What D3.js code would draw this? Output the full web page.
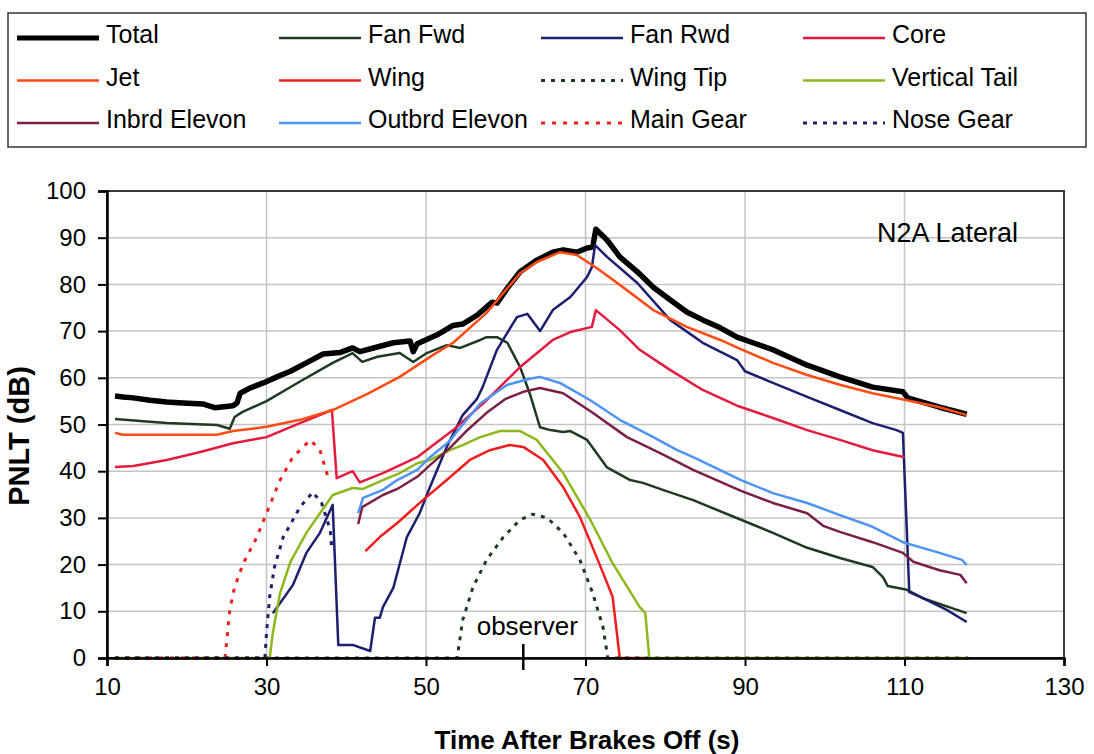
<!DOCTYPE html>
<html>
<head>
<meta charset="utf-8">
<script src="https://cdn.jsdelivr.net/npm/d3@7"></script>
<style>
    body { margin: 0; background: #fff; }
    svg { font-family: "Liberation Sans", Arial, sans-serif; }
    .grid line { stroke: #c4c4c4; stroke-width: 1.5; }
</style>
</head>
<body>
<div id="pnlt_chart"></div>
<script>

    // values: [time (s), PNLT (dB)]
    var total = [[11,56.1],[12,55.9],[13.3,55.7],[15.4,55.2],[17.5,54.8],[19.5,54.6],[22,54.4],[23.5,53.6],[25.8,54],[26.3,54.6],[26.7,56.7],[27.9,57.8],[29.6,58.9],[31.3,60.2],[33,61.4],[35,63.2],[37.1,65.1],[39.2,65.4],[40.8,66.4],[41.7,65.6],[43.9,66.6],[45.9,67.5],[48,67.9],[48.4,65.6],[48.9,67.3],[51.4,69.2],[53.4,71.2],[54.6,71.5],[56.4,73.4],[58.3,76.2],[58.9,76],[60.2,79.2],[61.8,82.7],[63.9,85.2],[65.9,86.9],[67.2,87.4],[68.9,86.9],[70.2,87.8],[70.9,88],[71.3,91.8],[72.7,89.5],[74.3,85.9],[76.5,82.7],[78.5,79.4],[80.6,76.7],[82.7,74.1],[84.7,72.4],[86.9,70.7],[89,68.7],[91,67.5],[93.5,66],[97.8,62.7],[101.9,60.2],[106,58],[109.8,57],[110.4,55.7],[114.4,53.7],[117.8,52.2]];
    var fanFwd = [[11,51.2],[15.4,50.6],[17.5,50.3],[23.8,49.9],[25.4,49.1],[26,51.6],[27,52.7],[30,55],[34.2,59.2],[38.3,63.2],[40.8,65.3],[42,63.4],[43.9,64.5],[46.7,65.3],[48.4,63.4],[50.1,65.3],[52.6,67],[54.3,66.4],[56.8,68.1],[57.6,68.7],[58.9,68.7],[60.2,67.5],[61.8,62.3],[63,56.7],[64.3,49.4],[65.6,48.8],[67.2,48.4],[68.1,48.6],[70.2,46.7],[72.7,40.8],[75.6,38.1],[77.2,37.5],[79.7,36],[83.5,33.8],[89.5,29.6],[93.5,26.8],[97.8,23.6],[101.9,21.4],[106,19.5],[107.3,17.3],[107.9,15.4],[110.3,14.6],[112.3,12.8],[117.8,9.6]];
    var fanRwd = [[30.8,9.6],[33.3,15.6],[35,22.5],[36.7,26.8],[38.3,32.8],[39,2.8],[40.8,2.8],[43,1.5],[43.6,8.6],[44.2,8.6],[44.6,10.9],[45.9,15],[47.6,25.9],[49.2,31],[50.5,36.6],[52.6,45.2],[54.6,52],[56.4,55.5],[57.1,58],[58.9,66],[61.4,73],[62.7,73.7],[64.3,70],[65.9,74.5],[68.1,77.3],[70.2,81.6],[70.8,83.7],[71.2,88.4],[72.7,85.9],[76.5,80.3],[80.6,72.4],[84.7,67.5],[89,63.8],[90,61.4],[93.5,58.9],[97.8,55.9],[101.9,53.1],[106,50.3],[109,48.8],[109.8,48.2],[110.6,14.1],[112.3,12.8],[115.3,10.3],[117.8,7.7]];
    var core = [[11,40.9],[13.3,41.1],[17.5,42.4],[21.7,44.1],[25.8,46],[30,47.3],[34.2,50.3],[38.2,53.1],[38.8,38.5],[40.8,40],[41.7,37.6],[44.6,39.6],[48.9,43],[53.4,48.8],[57.6,55.2],[61.8,62.3],[65.9,68.1],[68.1,69.8],[70.8,70.9],[71.3,74.5],[74.3,70.2],[76.8,66],[80.6,61.7],[84.7,57.4],[89.2,53.9],[93.5,51.4],[97.8,48.8],[101.9,46.7],[106,44.5],[110,43]];
    var jet = [[11,48.2],[12,47.8],[17,47.8],[23.8,47.8],[25.8,48.6],[30,49.5],[34.2,51],[38.3,53.1],[42.6,56.5],[46.7,60.2],[50.9,64.9],[53.4,67.5],[57.6,73.9],[61.8,82.4],[63.9,84.8],[66.8,86.9],[68.9,86.3],[71.4,83.5],[74.3,79.9],[78.5,74.5],[82.7,70.9],[86.9,68.1],[89.4,66.2],[93.5,63.2],[97.8,60.6],[101.9,58.5],[106,56.7],[110.3,55.2],[114.4,53.7],[117.8,52]];
    var wing = [[42.4,22.9],[44.2,25.9],[46.4,28.9],[49.6,33.8],[52.6,38.1],[55.5,42.4],[58,44.5],[60.5,45.6],[62.2,45.2],[64.7,42.4],[67.2,36.6],[69.3,30.2],[71.4,21.6],[73.4,13.1],[74.3,0],[77.5,0]];
    var wingTip = [[11,0],[53.9,0],[54.6,8.1],[55.9,15.2],[57.6,21],[59.7,25.9],[61.8,29.6],[63.4,30.8],[65.2,30],[67.2,26.8],[69.3,21],[70.9,13.9],[72.2,6.6],[72.8,0],[118,0]];
    var verticalTail = [[11,0],[30.4,0],[30.8,5.4],[31.7,13.9],[33,20.6],[35,26.8],[36.7,31],[38.3,34.9],[40.8,36.4],[42.1,36.2],[44.6,38.1],[46.7,39.6],[48.9,41.7],[50.5,42.4],[53,44.5],[54.6,45.6],[56.8,47.3],[59.3,48.6],[61.8,48.6],[63.9,46.7],[67.2,39.6],[70.6,29.6],[73.4,20.3],[76.8,10.9],[77.5,9.6],[78,0],[118,0]];
    var inbrdElevon = [[41.5,28.7],[42,32.3],[44.6,34.9],[46.4,36.2],[48.9,38.8],[50.5,41.3],[53,45],[55,48.5],[57.6,52.5],[60,55.5],[62.2,57],[64.3,57.8],[67.2,56.7],[70.9,52.5],[75.2,47.3],[79.3,43.9],[83.5,40.3],[89.5,35.8],[93.5,33.2],[97.8,31],[99.8,28.3],[101.9,27],[106,24.8],[109.8,22.5],[111.1,20.6],[114.4,18.8],[117,17.8],[117.8,16]];
    var outbrdElevon = [[41.5,31],[42.1,34.3],[44.6,36],[46.4,38.1],[48.9,40.3],[50.5,43],[53,46.5],[53.9,48.5],[56.8,54.5],[60.2,58.5],[63,59.8],[64.3,60.2],[66.8,58.9],[70.6,55.2],[74.3,51],[78.5,47.3],[81.5,44.5],[83.5,43],[89.5,38.1],[93.5,35.3],[97.8,33.2],[101.9,30.6],[106,28.1],[109.8,24.8],[114.4,22.5],[117.2,21],[117.8,19.9]];
    var mainGear = [[11,0],[24.8,0],[25.4,10.3],[26,15.2],[27.1,20.3],[28.8,25.9],[30,31],[31.7,38.1],[33.3,43],[35.5,46.7],[36.7,44.5],[37.7,38.8]];
    var noseGear = [[11,0],[29.8,0],[30,5.4],[30.4,13.1],[31,19.5],[32.1,25.9],[34.2,32.3],[35.8,35.5],[36.9,33.2],[38,27.4],[38.2,23]];

    var seriesNames = ["Total", "Fan Fwd", "Fan Rwd", "Core", "Jet", "Wing", "Wing Tip", "Vertical Tail", "Inbrd Elevon", "Outbrd Elevon", "Main Gear", "Nose Gear"];
    var xTicks = [10, 30, 50, 70, 90, 110, 130];
    var yTicks = [0, 10, 20, 30, 40, 50, 60, 70, 80, 90, 100];
    var observerTime = 62.2;

    // line styles, same order as the names
    var styles = [
        {color: "#000000", width: 5.5, dash: null},
        {color: "#1e3b20", width: 2.5, dash: null},
        {color: "#1c1f6e", width: 2.5, dash: null},
        {color: "#e31b3f", width: 2.5, dash: null},
        {color: "#ff4b14", width: 2.5, dash: null},
        {color: "#f01e1e", width: 2.5, dash: null},
        {color: "#1d3b1d", width: 3, dash: "4,6"},
        {color: "#8db81c", width: 2.5, dash: null},
        {color: "#7b1f45", width: 2.5, dash: null},
        {color: "#4d94f5", width: 2.5, dash: null},
        {color: "#f01e1e", width: 3, dash: "4,7"},
        {color: "#1c1f6e", width: 3, dash: "4,6"}
    ];
    var seriesData = [total, fanFwd, fanRwd, core, jet, wing, wingTip, verticalTail, inbrdElevon, outbrdElevon, mainGear, noseGear];

    var series = seriesNames.map(function (name, i) {
        return {name: name, values: seriesData[i], style: styles[i]};
    });

    var W = 1094, H = 754;
    var plot = {left: 107, right: 1064, top: 191, bottom: 658};

    var svg = d3.select("#pnlt_chart")
        .append("svg")
        .attr("width", W)
        .attr("height", H);

    var x = d3.scaleLinear()
        .domain([10, 130])
        .range([plot.left, plot.right]);

    var y = d3.scaleLinear()
        .domain([0, 100])
        .range([plot.bottom, plot.top]);

    // grid lines
    var grid = svg.append("g").attr("class", "grid");
    grid.selectAll("line.h")
        .data(yTicks.slice(1, -1))
        .enter()
        .append("line")
        .attr("x1", plot.left).attr("x2", plot.right)
        .attr("y1", function (d) { return y(d); })
        .attr("y2", function (d) { return y(d); });
    grid.selectAll("line.v")
        .data(xTicks.slice(1, -1))
        .enter()
        .append("line")
        .attr("y1", plot.top).attr("y2", plot.bottom)
        .attr("x1", function (d) { return x(d); })
        .attr("x2", function (d) { return x(d); });

    // plot frame
    svg.append("rect")
        .attr("x", plot.left).attr("y", plot.top)
        .attr("width", plot.right - plot.left)
        .attr("height", plot.bottom - plot.top)
        .attr("fill", "none")
        .attr("stroke", "#3a3a3a")
        .attr("stroke-width", 2);

    // lines
    var line = d3.line()
        .x(function (d) { return x(d[0]); })
        .y(function (d) { return y(d[1]); });

    svg.append("g")
        .selectAll("path")
        .data(series)
        .enter()
        .append("path")
        .attr("d", function (d) { return line(d.values); })
        .attr("fill", "none")
        .attr("stroke", function (d) { return d.style.color; })
        .attr("stroke-width", function (d) { return d.style.width; })
        .attr("stroke-dasharray", function (d) { return d.style.dash; })
        .attr("stroke-linejoin", "round");

    // Add X axis
    var xAxis = svg.append("g")
        .attr("transform", "translate(0," + plot.bottom + ")")
        .call(d3.axisBottom(x).tickValues(xTicks).tickSize(8).tickPadding(12));
    xAxis.select(".domain").attr("stroke", "#000").attr("stroke-width", 2.5);
    xAxis.selectAll(".tick line").attr("stroke", "#000").attr("stroke-width", 2);
    xAxis.selectAll("text").attr("font-size", 24).attr("fill", "#000")
        .attr("font-family", "'Liberation Sans', Arial, sans-serif");

    // Add Y axis
    var yAxis = svg.append("g")
        .attr("transform", "translate(" + plot.left + ",0)")
        .call(d3.axisLeft(y).tickValues(yTicks).tickSize(9).tickPadding(12));
    yAxis.select(".domain").attr("stroke", "#000").attr("stroke-width", 2.5);
    yAxis.selectAll(".tick line").attr("stroke", "#000").attr("stroke-width", 2);
    yAxis.selectAll("text").attr("font-size", 24).attr("fill", "#000")
        .attr("font-family", "'Liberation Sans', Arial, sans-serif");

    // text label for the x axis
    svg.append("text")
        .attr("x", 587)
        .attr("y", 749)
        .style("text-anchor", "middle")
        .style("font-weight", "bold")
        .style("font-size", "26px")
        .text("Time After Brakes Off (s)");

    // text label for the y axis
    svg.append("text")
        .attr("transform", "translate(29,436) rotate(-90)")
        .style("text-anchor", "middle")
        .style("font-weight", "bold")
        .style("font-size", "29px")
        .text("PNLT (dB)");

    // case label
    svg.append("text")
        .attr("x", 877)
        .attr("y", 242)
        .style("font-size", "27px")
        .text("N2A Lateral");

    // observer marker
    svg.append("line")
        .attr("x1", x(observerTime)).attr("x2", x(observerTime))
        .attr("y1", plot.bottom - 14).attr("y2", plot.bottom + 12)
        .attr("stroke", "#000")
        .attr("stroke-width", 2.5);
    svg.append("text")
        .attr("x", x(observerTime) + 4)
        .attr("y", 635)
        .style("text-anchor", "middle")
        .style("font-size", "26px")
        .text("observer");

    // legend
    svg.append("rect")
        .attr("x", 8).attr("y", 13)
        .attr("width", 1078).attr("height", 134)
        .attr("fill", "#fff")
        .attr("stroke", "#333")
        .attr("stroke-width", 1.5);

    var legend = svg.append("g")
        .selectAll("g")
        .data(series)
        .enter()
        .append("g")
        .attr("transform", function (d, i) {
            var col = i % 4, row = Math.floor(i / 4);
            return "translate(" + (17 + col * 262) + "," + (38 + row * 42.5) + ")";
        });
    legend.append("line")
        .attr("x1", 0).attr("x2", 82)
        .attr("stroke", function (d) { return d.style.color; })
        .attr("stroke-width", function (d) { return d.name == "Total" ? 5 : d.style.width; })
        .attr("stroke-dasharray", function (d) { return d.style.dash; });
    legend.append("text")
        .attr("x", 89)
        .attr("y", 5)
        .style("font-size", "25px")
        .text(function (d) { return d.name; });

</script>
</body>
</html>
